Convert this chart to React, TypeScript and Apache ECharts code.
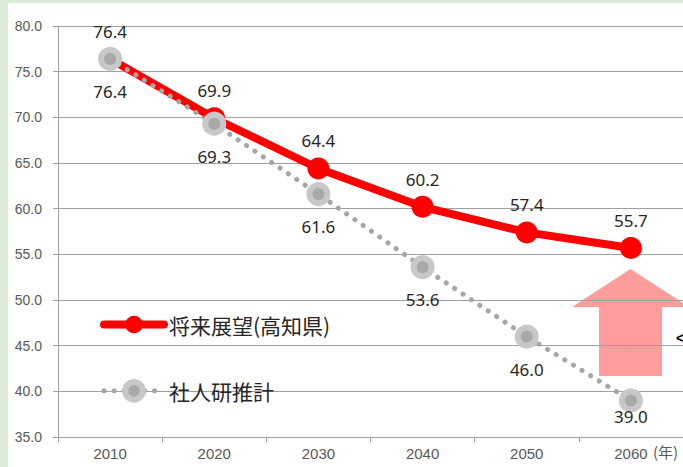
import React, { useEffect, useRef } from "react";
import * as echarts from "echarts";

const years = ["2010", "2020", "2030", "2040", "2050", "2060"];
const prospect = [76.4, 69.9, 64.4, 60.2, 57.4, 55.7];
const ipss = [76.4, 69.3, 61.6, 53.6, 46.0, 39.0];
const seriesNames = ["将来展望(高知県)", "社人研推計"];
const yMin = 35;
const yMax = 80;
const yStep = 5;
const yearUnit = "(年)";

export default function App() {
  const ref = useRef<HTMLDivElement>(null);
  useEffect(() => {
    if (!ref.current) return;
    const chart = echarts.init(ref.current, null, { renderer: "svg" });
    const numFont = "Noto Sans";
    const redLine = { color: "#ff0000", width: 8, cap: "round" };
    const grayLine = { color: "#a6a6a6", width: 5, type: [0.1, 10], cap: "round" };
    const grayItem = { color: "#a9a9a9", borderColor: "#c8c8c8", borderWidth: 6 };
    const ipssData = ipss.map((v, i) =>
      i === ipss.length - 1 ? { value: v, label: { offset: [0, -16] } } : v
    );
    chart.setOption({
      animation: false,
      backgroundColor: "#ffffff",
      grid: { left: 58, right: 0, top: 26, bottom: 30, containLabel: false },
      legend: {
        orient: "vertical",
        left: 100,
        top: 314,
        padding: 0,
        itemWidth: 60,
        itemHeight: 22,
        itemGap: 44,
        selectedMode: false,
        data: [
          { name: seriesNames[0], lineStyle: redLine, itemStyle: { color: "#ff0000" } },
          { name: seriesNames[1], lineStyle: grayLine, itemStyle: grayItem },
        ],
        textStyle: { fontSize: 21, color: "#262626", fontFamily: "Noto Sans CJK JP" },
      },
      xAxis: {
        type: "category",
        data: years,
        boundaryGap: true,
        axisLine: { show: true, lineStyle: { color: "#a0a0a0", width: 1 } },
        axisTick: { show: true, length: 5, lineStyle: { color: "#a0a0a0" } },
        axisLabel: { margin: 9, fontSize: 15, color: "#595959", fontFamily: "Liberation Sans" },
        splitLine: { show: false },
      },
      yAxis: {
        type: "value",
        min: yMin,
        max: yMax,
        interval: yStep,
        axisLine: { show: true, lineStyle: { color: "#a0a0a0", width: 1 } },
        axisTick: { show: true, length: 5, lineStyle: { color: "#a0a0a0" } },
        axisLabel: {
          margin: 16,
          fontSize: 14,
          color: "#595959",
          fontFamily: "Liberation Sans",
          formatter: (v: number) => v.toFixed(1),
        },
        splitLine: { show: true, lineStyle: { color: "#a0a0a0", width: 1 } },
      },
      series: [
        {
          name: seriesNames[0],
          type: "line",
          data: prospect,
          symbol: "circle",
          symbolSize: 22,
          silent: true,
          lineStyle: redLine,
          itemStyle: { color: "#ff0000" },
          emphasis: { disabled: true },
          label: {
            show: true,
            position: "top",
            distance: 8,
            fontSize: 17,
            color: "#262626",
            fontFamily: numFont,
            formatter: (p: any) => Number(p.value).toFixed(1),
          },
        },
        {
          name: seriesNames[1],
          type: "line",
          data: ipssData,
          symbol: "circle",
          symbolSize: 18,
          silent: true,
          lineStyle: grayLine,
          itemStyle: grayItem,
          emphasis: { disabled: true },
          label: {
            show: true,
            position: "bottom",
            distance: 12,
            fontSize: 17,
            color: "#262626",
            fontFamily: numFont,
            formatter: (p: any) => Number(p.value).toFixed(1),
          },
        },
      ],
      graphic: [
        { type: "rect", shape: { x: 0, y: 0, width: 8, height: 467 }, style: { fill: "#dcebd7" }, silent: true },
        { type: "rect", shape: { x: 0, y: 0, width: 683, height: 3 }, style: { fill: "#dcebd7" }, silent: true },
        {
          type: "polygon",
          silent: true,
          shape: {
            points: [
              [630.5, 269],
              [689, 307],
              [662, 307],
              [662, 376],
              [599, 376],
              [599, 307],
              [572, 307],
            ],
          },
          style: { fill: "rgba(255,60,60,0.5)" },
        },
        {
          type: "text",
          left: 653,
          top: 444,
          silent: true,
          style: { text: yearUnit, fontSize: 15, fill: "#595959", fontFamily: "Noto Sans CJK JP" },
        },
        {
          type: "text",
          left: 676,
          top: 331,
          silent: true,
          style: { text: "<", fontSize: 14, fontWeight: "bold", fill: "#000", fontFamily: "Liberation Sans" },
        },
      ],
    });
    return () => chart.dispose();
  }, []);
  return (
    <div
      ref={ref}
      style={{ position: "fixed", left: 0, top: 0, width: 683, height: 467, background: "#fff" }}
    />
  );
}
